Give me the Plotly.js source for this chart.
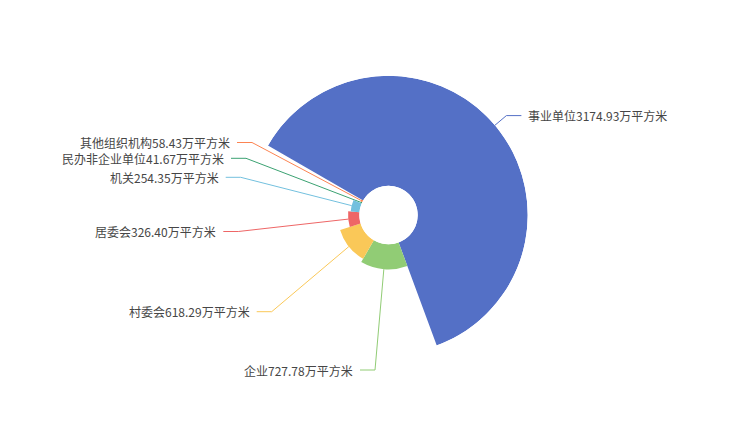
<!DOCTYPE html>
<html><head><meta charset="utf-8">
<script src="https://cdn.plot.ly/plotly-3.0.1.min.js"></script>
<style>html,body{margin:0;padding:0;background:#fff}#chart{width:743px;height:432px}</style>
</head><body><div id="chart"></div>
<script>
// ---- data ----
const categories = ['事业单位','企业','村委会','居委会','机关','民办非企业单位','其他组织机构'];
const values = [3174.93, 727.78, 618.29, 326.40, 254.35, 41.67, 58.43];
const unit = '万平方米';
const colors = ['#5470c6','#91cc75','#fac858','#ee6666','#73c0de','#3ba272','#fc8452'];

// ---- layout constants (pixels) ----
const W = 743, H = 432, CX = 388.5, CY = 215, R = 139.2, R0 = 29.2;
const LEN1 = 15, LEN2 = 15, GAP = 5;
// adjusted label placement for left-side labels: [elbowX, labelY]
const leftLabelPos = {1:[375,370], 2:[271.7,311.7], 3:[238.3,231.5], 4:[240.7,177.3], 5:[246,158.3], 6:[252,142.5]};

const total = values.reduce((a,b)=>a+b,0);
const maxV = Math.max(...values);
let cum = 0; const theta = [], width = [];
values.forEach(v => { const w = v/total*360; theta.push(cum + w/2); width.push(w); cum += w; });

const ROT = 150; // degrees ccw from east where theta=0 sits; clockwise direction
const traces = [{
  type: 'barpolar', r: values, theta: theta, width: width,
  marker: {color: colors, line: {width: 0}},
  hoverinfo: 'none', showlegend: false
}];

const annotations = [];
values.forEach((v, i) => {
  const ang = (ROT - theta[i]) * Math.PI/180; // ccw from east
  const rp = R0 + v/maxV*(R-R0);
  const sx = CX + rp*Math.cos(ang), sy = CY - rp*Math.sin(ang);
  let ex, ey, fx, anchor;
  if (leftLabelPos[i]) {
    [ex, ey] = leftLabelPos[i];
    fx = ex - LEN2; anchor = 'right';
  } else {
    ex = sx + LEN1*Math.cos(ang); ey = sy - LEN1*Math.sin(ang);
    fx = ex + LEN2; anchor = 'left';
  }
  traces.push({type:'scatter', mode:'lines', x:[sx,ex,fx], y:[sy,ey,ey], xaxis:'x', yaxis:'y',
    line:{color:colors[i], width:1}, hoverinfo:'none', showlegend:false});
  annotations.push({xref:'x', yref:'y', x: anchor==='left' ? fx+GAP : fx-GAP, y: ey,
    xanchor: anchor, yanchor:'middle', showarrow:false,
    text: categories[i] + values[i].toFixed(2) + unit,
    font:{family:'"Noto Sans CJK SC", "Noto Sans", sans-serif', size:12, color:'#464646'}});
});

const layout = {
  width: W, height: H, margin:{l:0,r:0,t:0,b:0},
  paper_bgcolor:'#fff', plot_bgcolor:'rgba(0,0,0,0)', showlegend:false,
  polar: {
    domain: {x:[(CX-R)/W, (CX+R)/W], y:[(H-CY-R)/H, (H-CY+R)/H]},
    hole: R0/R, bgcolor:'rgba(0,0,0,0)', bargap:0,
    radialaxis:{visible:false, range:[0, maxV], showgrid:false},
    angularaxis:{visible:false, direction:'clockwise', rotation:ROT, showgrid:false}
  },
  xaxis:{domain:[0,1], range:[0,W], visible:false, fixedrange:true, showgrid:false, zeroline:false},
  yaxis:{domain:[0,1], range:[H,0], visible:false, fixedrange:true, showgrid:false, zeroline:false},
  annotations: annotations
};
Plotly.newPlot('chart', traces, layout, {displayModeBar:false, staticPlot:true});
</script></body></html>
